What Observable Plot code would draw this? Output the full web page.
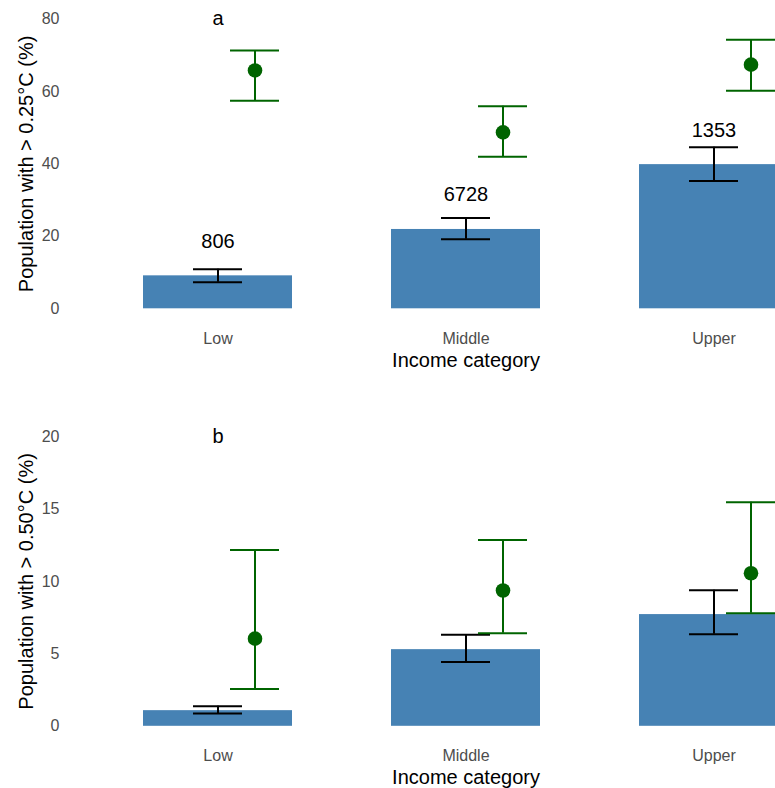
<!DOCTYPE html>
<html>
<head>
<meta charset="utf-8">
<script src="https://cdn.jsdelivr.net/npm/d3@7"></script>
<script src="https://cdn.jsdelivr.net/npm/@observablehq/plot@0.6"></script>
<style>
  html, body { margin: 0; padding: 0; background: white; overflow: hidden; }
  #wrap { width: 775px; height: 788px; overflow: hidden; font-family: "Liberation Sans", Arial, sans-serif; }
  #wrap svg { display: block; max-width: none; }
</style>
</head>
<body>
<div id="wrap"></div>
<script>
// Categories
const categories = ["Low", "Middle", "Upper"];
const countLabels = ["806", "6728", "1353"];
const xTitle = "Income category";

// Panel a: > 0.25°C
const barA = [9.1, 21.9, 39.8];
const barALo = [7.3, 19.2, 35.3];
const barAHi = [10.9, 25.1, 44.6];
const ptA = [65.8, 48.7, 67.4];
const ptALo = [57.4, 42.0, 60.2];
const ptAHi = [71.3, 55.9, 74.3];

// Panel b: > 0.50°C
const barB = [1.08, 5.29, 7.71];
const barBLo = [0.88, 4.44, 6.35];
const barBHi = [1.38, 6.31, 9.39];
const ptB = [6.05, 9.37, 10.56];
const ptBLo = [2.58, 6.42, 7.80];
const ptBHi = [12.17, 12.86, 15.46];

const yTicksA = [0, 20, 40, 60, 80];
const yTicksB = [0, 5, 10, 15, 20];

const FONT = "Liberation Sans, Arial, sans-serif";
const GREEN = "#006400";
const BLUE = "#4682B4";

function panel({bar, barLo, barHi, pt, ptLo, ptHi, yMax, yTicks, yLabel, letter, counts, marginTop, height}) {
  const rows = categories.map((c, i) => ({
    cat: c, bar: bar[i], lo: barLo[i], hi: barHi[i],
    pt: pt[i], plo: ptLo[i], phi: ptHi[i],
    count: counts ? counts[i] : null
  }));
  const marks = [
    Plot.barY(rows, {x: "cat", y: "bar", fill: BLUE}),
    // black error bars
    Plot.ruleX(rows, {x: "cat", y1: "lo", y2: "hi", stroke: "black", strokeWidth: 2}),
    Plot.tickY(rows, {x: "cat", y: "lo", stroke: "black", strokeWidth: 2, insetLeft: 50, insetRight: 50}),
    Plot.tickY(rows, {x: "cat", y: "hi", stroke: "black", strokeWidth: 2, insetLeft: 50, insetRight: 50}),
    // green error bars and points
    Plot.ruleX(rows, {x: "cat", y1: "plo", y2: "phi", stroke: GREEN, strokeWidth: 2, dx: 37}),
    Plot.tickY(rows, {x: "cat", y: "plo", stroke: GREEN, strokeWidth: 2, insetLeft: 50, insetRight: 50, dx: 37}),
    Plot.tickY(rows, {x: "cat", y: "phi", stroke: GREEN, strokeWidth: 2, insetLeft: 50, insetRight: 50, dx: 37}),
    Plot.dot(rows, {x: "cat", y: "pt", r: 7.3, fill: GREEN, stroke: "none", dx: 37}),
    // panel letter
    Plot.text([letter], {x: () => categories[0], y: () => yMax, text: d => d, fontSize: 20, fill: "black"}),
    Plot.axisY({ticks: yTicks, tickSize: 0, tickPadding: 10, fontSize: 16, color: "#4d4d4d",
      label: yLabel, labelAnchor: "center", labelArrow: "none", labelOffset: 51}),
    Plot.axisX({tickSize: 0, tickPadding: 23.5, fontSize: 16, color: "#4d4d4d", label: null}),
    // x-axis title centred on the (clipped) panel, i.e. on the middle category
    Plot.text([xTitle], {x: () => categories[1], frameAnchor: "bottom", text: d => d, dy: 58,
      lineAnchor: "bottom", fontSize: 20, fill: "black"})
  ];
  if (counts) {
    marks.push(Plot.text(rows, {x: "cat", y: "bar", text: "count", dy: -34.5, fontSize: 20, fill: "black"}));
  }
  const chart = Plot.plot({
    width: 775,
    height,
    marginTop,
    marginBottom: height - marginTop - 289.8,
    marginLeft: 69,
    marginRight: 0,
    style: {fontFamily: FONT, background: "white", overflow: "hidden"},
    x: {type: "band", domain: categories, range: [93.5, 837.5], paddingInner: 0.4, paddingOuter: 0.2, axis: null},
    y: {domain: [0, yMax], axis: null},
    marks
  });
  chart.querySelectorAll("g[aria-label='y-axis label'] text").forEach(t => {
    t.setAttribute("font-size", "20");
    t.setAttribute("fill", "black");
    t.style.fontSize = "20px";
  });
  return chart;
}

const wrap = document.getElementById("wrap");
wrap.appendChild(panel({bar: barA, barLo: barALo, barHi: barAHi, pt: ptA, ptLo: ptALo, ptHi: ptAHi,
  yMax: 80, yTicks: yTicksA, yLabel: "Population with > 0.25°C (%)", letter: "a", counts: countLabels,
  marginTop: 18.5, height: 394}));
wrap.appendChild(panel({bar: barB, barLo: barBLo, barHi: barBHi, pt: ptB, ptLo: ptBLo, ptHi: ptBHi,
  yMax: 20, yTicks: yTicksB, yLabel: "Population with > 0.50°C (%)", letter: "b", counts: null,
  marginTop: 42, height: 394}));
</script>
</body>
</html>
